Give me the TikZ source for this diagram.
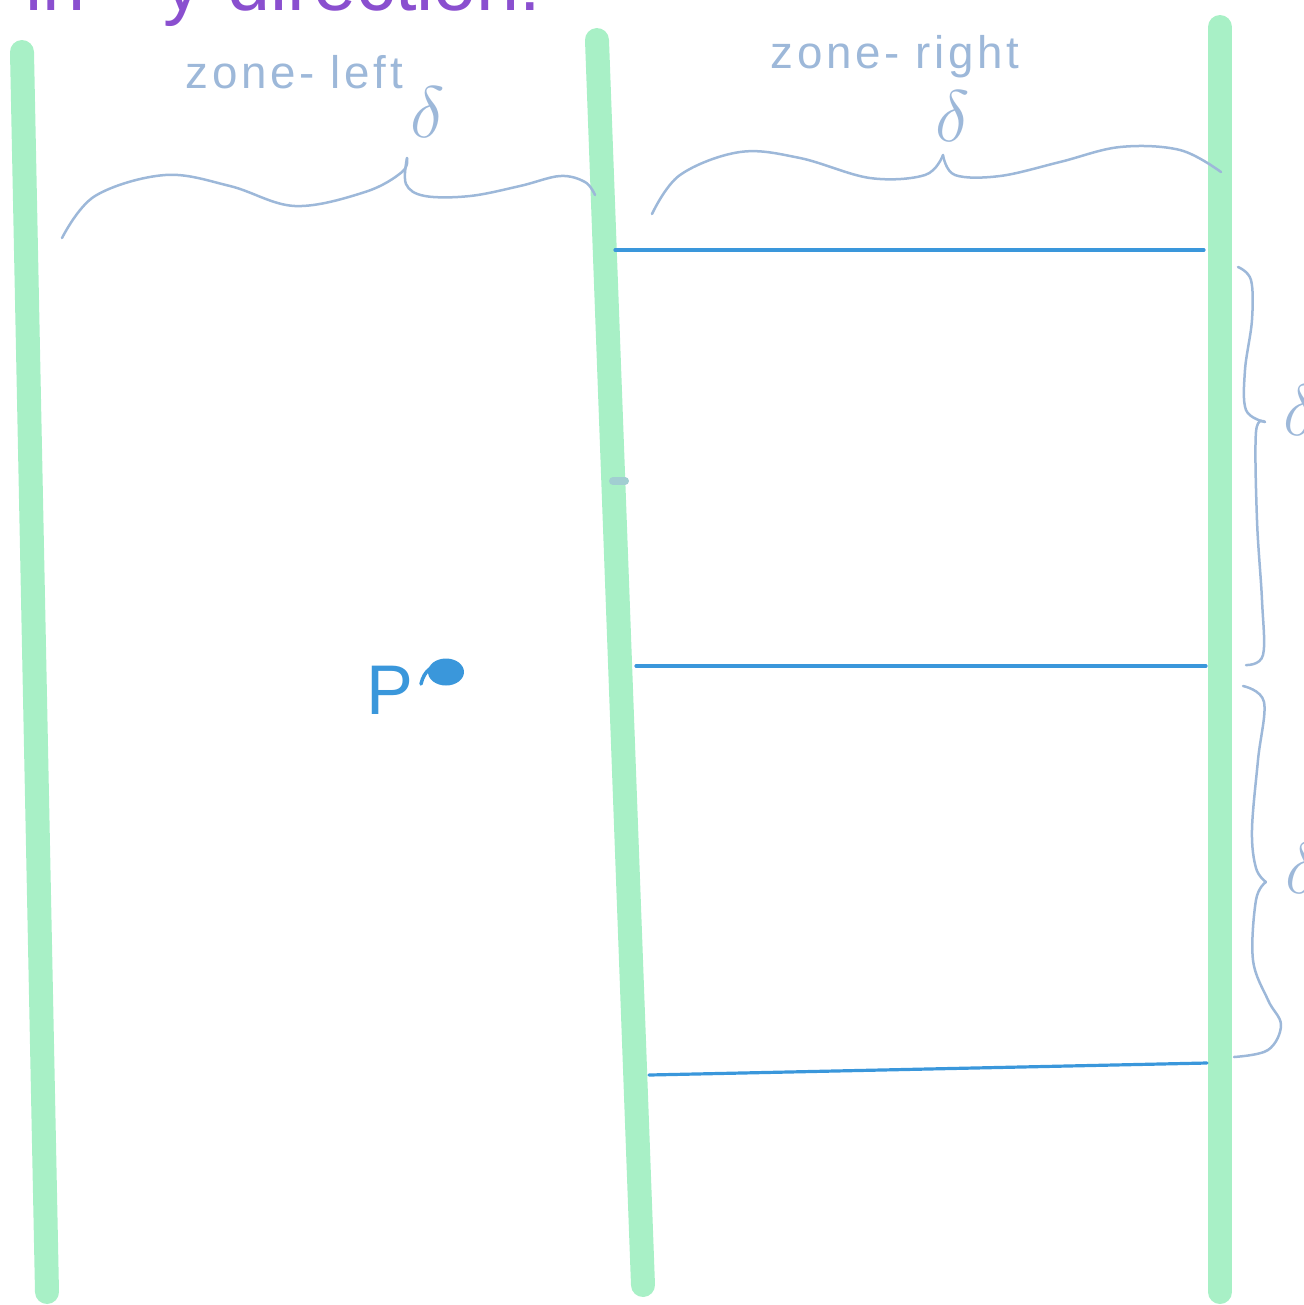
\documentclass[tikz,border=0pt]{standalone}
\usepackage{fontspec}
\setmainfont{Liberation Sans}
\newfontfamily\handfont[LetterSpace=8]{Liberation Sans}
\definecolor{railgreen}{HTML}{A8F0C6}
\definecolor{gridblue}{HTML}{3A97DB}
\definecolor{bracegray}{HTML}{9DB8D9}
\definecolor{notepurple}{HTML}{8A4FCF}

\begin{document}
\begin{tikzpicture}[x=0.1mm, y=-0.1mm, line cap=round, line join=round,
    rail/.style={line width=2.4mm, railgreen},
    cut/.style={line width=0.32mm, gridblue},
    brace/.style={line width=0.25mm, bracegray},
    note/.style={text=bracegray, font=\handfont\fontsize{13}{15}\selectfont, inner sep=0pt},
    gap/.style={text=bracegray, font=\fontsize{20}{24}\selectfont, inner sep=0pt}]
    \useasboundingbox (0,0) rectangle (1304,1305);
    \clip (0,0) rectangle (1304,1305);

    % --- NAGLOWEK ---
    \node[anchor=base west, text=notepurple, font=\fontsize{22}{26}\selectfont, inner sep=0pt]
        (title) at (25,10) {in\quad y-direction:};

    % --- PASY (zielone) ---
    \draw[rail] (22,52) -- (47,1292);
    \draw[rail] (597,40) -- (643,1285);
    \draw[rail] (1220,27) -- (1220,1292);
    \draw[line width=0.8mm, bracegray!60!railgreen] (613,481) -- (625,481);

    % --- PODZIAL STREFY (linie poziome) ---
    \draw[cut] (615,250) -- (1204,250);
    \draw[cut] (636,666) -- (1206,666);
    \draw[cut] (649,1075) -- (1207,1063);

    % --- KLAMRY GORNE ---
    \draw[brace] plot[smooth, tension=0.6] coordinates
        {(62,238) (95,196) (165,175) (230,186) (295,206) (365,192) (402,172) (407,158)};
    \draw[brace] plot[smooth, tension=0.6] coordinates
        {(407,158) (406,184) (425,196) (470,196) (520,186) (560,176) (585,182) (595,195)};
    \node[note, anchor=base west] (zoneL) at (185,88) {zone- left};
    \node[gap] (deltaL) at (428,112) {$\delta$};

    \draw[brace] plot[smooth, tension=0.6] coordinates
        {(652,214) (680,175) (740,152) (800,158) (870,178) (925,175) (943,155)};
    \draw[brace] plot[smooth, tension=0.6] coordinates
        {(943,155) (955,175) (1000,176) (1060,162) (1120,147) (1180,150) (1221,172)};
    \node[note, anchor=base west] (zoneR) at (770,68) {zone- right};
    \node[gap] (deltaR) at (953,116) {$\delta$};

    % --- KLAMRY BOCZNE ---
    \draw[brace] plot[smooth, tension=0.6] coordinates
        {(1238,267) (1251,280) (1252,320) (1245,370) (1246,410) (1265,422)};
    \draw[brace] plot[smooth, tension=0.6] coordinates
        {(1265,422) (1256,432) (1257,520) (1262,600) (1263,655) (1246,665)};
    \node[gap] (deltaS1) at (1301,410) {$\delta$};

    \draw[brace] plot[smooth, tension=0.6] coordinates
        {(1243,686) (1264,702) (1258,760) (1252,830) (1256,868) (1266,882)};
    \draw[brace] plot[smooth, tension=0.6] coordinates
        {(1266,882) (1256,900) (1253,960) (1268,1000) (1281,1025) (1268,1050) (1234,1057)};
    \node[gap] (deltaS2) at (1303,868) {$\delta$};

    % --- PUNKT P ---
    \node[text=gridblue, font=\fontsize{20}{24}\selectfont, inner sep=0pt] (P) at (390,690) {P};
    \fill[gridblue] (446,672) ellipse [x radius=1.8mm, y radius=1.35mm];
    \draw[gridblue, line width=0.35mm] (421,684) .. controls (424,670) and (434,663) .. (446,666);

\end{tikzpicture}
\end{document}
